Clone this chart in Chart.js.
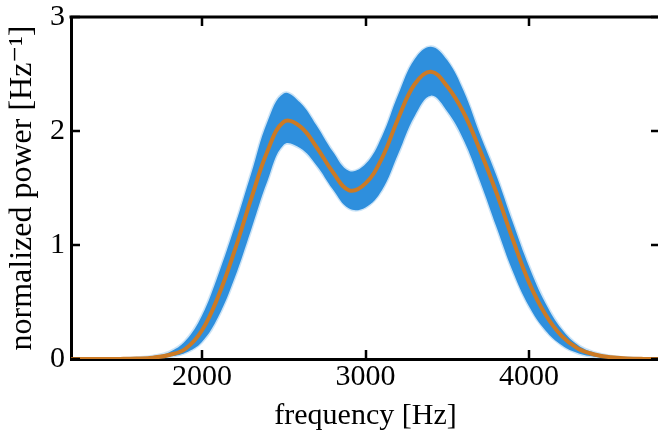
<!DOCTYPE html>
<html>
<head>
<meta charset="utf-8">
<script src="https://cdn.jsdelivr.net/npm/chart.js@4/dist/chart.umd.min.js"></script>
<style>
  html, body { margin: 0; padding: 0; background: #fff; overflow: hidden; }
  #wrap { width: 658px; height: 434px; overflow: hidden; }
</style>
</head>
<body>
<div id="wrap"><canvas id="psd" width="664" height="434"></canvas></div>
<script>
// frequency grid [Hz] and the power curves
const freq = [1200, 1300, 1400, 1500, 1600, 1700, 1800, 1900, 2000, 2100, 2200, 2300, 2400, 2500, 2600, 2700, 2800,
  2900, 3000, 3100, 3200, 3300, 3400, 3500, 3600, 3700, 3800, 3900, 4000, 4100, 4200, 4300, 4400, 4500, 4600, 4700, 4800];
const meanPower = [0, 0, 0, 0.001, 0.004, 0.012, 0.035, 0.09, 0.25, 0.55, 0.95, 1.40, 1.82, 2.08, 2.04, 1.86, 1.64,
  1.48, 1.54, 1.76, 2.11, 2.41, 2.52, 2.39, 2.16, 1.83, 1.46, 1.05, 0.67, 0.39, 0.20, 0.09, 0.04, 0.015, 0.005, 0.001, 0];
const upperPower = [0, 0, 0.001, 0.003, 0.01, 0.025, 0.06, 0.16, 0.38, 0.74, 1.16, 1.62, 2.08, 2.33, 2.25, 2.05, 1.82,
  1.65, 1.71, 1.95, 2.32, 2.63, 2.74, 2.62, 2.35, 1.97, 1.61, 1.20, 0.81, 0.49, 0.26, 0.12, 0.055, 0.025, 0.01, 0.002, 0];
const lowerPower = [0, 0, 0, 0, 0.001, 0.004, 0.02, 0.055, 0.15, 0.37, 0.71, 1.13, 1.56, 1.88, 1.85, 1.70, 1.49,
  1.32, 1.33, 1.48, 1.80, 2.13, 2.31, 2.17, 1.92, 1.56, 1.16, 0.77, 0.46, 0.25, 0.12, 0.05, 0.02, 0.006, 0.001, 0, 0];
const xTickValues = [2000, 3000, 4000];
const yTickValues = [0, 1, 2, 3];

const toPoints = (ys) => freq.map((f, i) => ({ x: f, y: ys[i] }));

const BLUE = 'rgb(46,143,221)';
const ORANGE = 'rgb(204,122,36)';
const serif = "'Liberation Serif', 'DejaVu Serif', serif";

// top/right spines and the inward ticks (matplotlib style)
const frame = {
  id: 'frame',
  afterDraw(chart) {
    const { ctx, chartArea: a, scales } = chart;
    ctx.save();
    ctx.strokeStyle = '#000';
    ctx.lineWidth = 3;
    ctx.beginPath();
    ctx.moveTo(a.left - 1.5, a.top);
    ctx.lineTo(a.right, a.top);
    ctx.lineTo(a.right, a.bottom);
    ctx.stroke();
    ctx.lineWidth = 2.5;
    ctx.beginPath();
    xTickValues.forEach(v => {
      const x = Math.round(scales.x.getPixelForValue(v));
      ctx.moveTo(x, a.bottom); ctx.lineTo(x, a.bottom - 9);
      ctx.moveTo(x, a.top); ctx.lineTo(x, a.top + 9);
    });
    yTickValues.forEach(v => {
      const y = Math.round(scales.y.getPixelForValue(v));
      ctx.moveTo(a.left, y); ctx.lineTo(a.left + 9, y);
      ctx.moveTo(a.right, y); ctx.lineTo(a.right - 9, y);
    });
    ctx.stroke();
    ctx.restore();
  }
};

new Chart(document.getElementById('psd'), {
  type: 'line',
  data: {
    datasets: [
      // first dataset is painted last, so the mean goes on top of the band
      {
        label: 'mean',
        data: toPoints(meanPower),
        borderColor: ORANGE,
        borderWidth: 4,
        fill: false,
        pointRadius: 0,
        tension: 0.4
      },
      {
        label: 'upper',
        data: toPoints(upperPower),
        borderColor: 'rgba(46,143,221,0.25)',
        borderWidth: 3,
        backgroundColor: BLUE,
        fill: '+1',
        pointRadius: 0,
        tension: 0.4
      },
      {
        label: 'lower',
        data: toPoints(lowerPower),
        borderColor: 'rgba(46,143,221,0.25)',
        borderWidth: 3,
        fill: false,
        pointRadius: 0,
        tension: 0.4
      }
    ]
  },
  options: {
    responsive: false,
    devicePixelRatio: 1,
    animation: false,
    layout: { padding: { top: 17, right: 4, left: 0, bottom: 0 } },
    plugins: { legend: { display: false }, tooltip: { enabled: false } },
    scales: {
      x: {
        type: 'linear',
        min: 1200,
        max: 4800,
        afterBuildTicks: (s) => { s.ticks = xTickValues.map(v => ({ value: v })); },
        afterFit: (s) => { s.height = 75; s.paddingLeft = 0; s.paddingRight = 0; },
        grid: { display: false, drawTicks: false },
        border: { display: true, color: '#000', width: 3 },
        ticks: {
          color: '#000', padding: 0, maxRotation: 0,
          callback: (v) => String(v),
          font: { family: serif, size: 30, lineHeight: 1.2 }
        },
        title: {
          display: true,
          text: 'frequency [Hz]',
          color: '#000',
          padding: { top: 0, bottom: 0 },
          font: { family: serif, size: 30, lineHeight: 1.2 }
        }
      },
      y: {
        min: 0,
        max: 3,
        afterBuildTicks: (s) => { s.ticks = yTickValues.map(v => ({ value: v })); },
        afterFit: (s) => { s.width = 71; s.paddingTop = 0; s.paddingBottom = 0; },
        grid: { display: false, drawTicks: false },
        border: { display: true, color: '#000', width: 3 },
        ticks: { color: '#000', padding: 6, font: { family: serif, size: 30, lineHeight: 1 } },
        title: {
          display: true,
          text: 'normalized power [Hz\u207B\u00B9]',
          color: '#000',
          padding: { top: 3, bottom: 0 },
          font: { family: serif, size: 32, lineHeight: 1.2 }
        }
      }
    }
  },
  plugins: [frame]
});
</script>
</body>
</html>
